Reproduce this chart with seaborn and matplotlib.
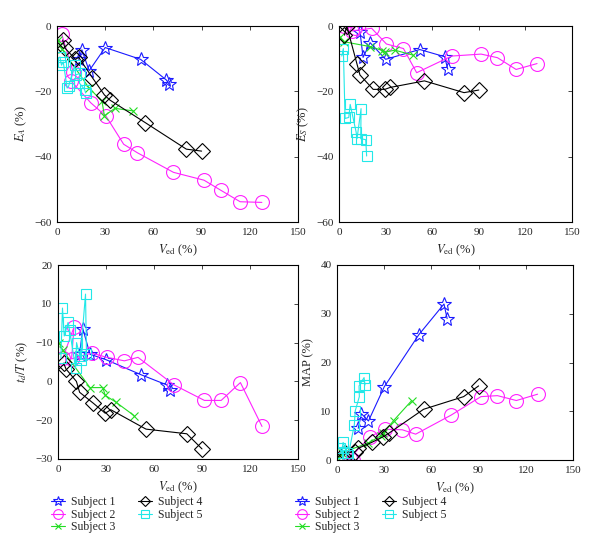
import numpy as np
import pandas as pd
import matplotlib
matplotlib.use("Agg")
import matplotlib.pyplot as plt
import seaborn as sns

# ---------------- data ----------------
subjects = ["Subject 1", "Subject 2", "Subject 3", "Subject 4", "Subject 5"]

s1_ved = [13.5, 15.5, 20, 30, 52, 68, 70]
s1_ea = [-10.2, -7.3, -13.7, -6.6, -10.2, -16.5, -17.9]
s1_es = [-1.7, -9.6, -5.1, -10.2, -7.2, -9.4, -13.2]
s1_td = [-2.9, 3.6, -3.0, -4.4, -8.3, -10.9, -12.2]
s1_map = [6.5, 9.5, 8.0, 15.0, 25.7, 32.0, 29.0]

s2_ved = [3, 10, 8.5, 21, 30.5, 41.5, 50, 72.5, 91.5, 102, 114, 127.5]
s2_ea = [-2.6, -14, -16.7, -23.5, -27.6, -36.2, -38.8, -44.8, -47.2, -50.3, -53.8, -54]
s2_es = [0.0, -0.7, -1.5, -0.7, -5.5, -6.9, -14.3, -9.2, -8.6, -9.7, -13.3, -11.5]
s2_td = [-4.0, 4.0, -4.2, -2.7, -3.8, -4.7, -3.8, -10.9, -14.9, -14.9, -10.3, -21.6]
s2_map = [0.3, 0.1, 0.5, 4.8, 6.3, 6.2, 5.3, 9.2, 13.0, 13.2, 12.2, 13.5]

s3_ved = [0.5, 3, 20, 28, 29.5, 36, 47.5]
s3_ea = [-4.2, -7.0, -19.0, -23.0, -27.5, -25.2, -26.0]
s3_es = [-3.3, -4.8, -6.3, -7.5, -8.0, -7.4, -8.9]
s3_td = [0.0, -2.0, -11.6, -11.6, -13.6, -15.3, -18.8]
s3_map = [0.5, 1.5, 3.5, 5.0, 5.5, 8.1, 12.2]

s4_ved = [3.5, 5, 11.5, 13.5, 22, 29.5, 33, 55, 80.5, 90]
s4_ea = [-4.3, -6.8, -10.2, -9.6, -15.8, -21.1, -22.7, -29.6, -37.7, -38.3]
s4_es = [-2.8, 0.0, -11.5, -15.0, -19.4, -19.4, -18.8, -16.8, -20.4, -19.6]
s4_td = [-5.3, -6.8, -10.0, -12.8, -15.6, -18.2, -17.3, -22.3, -23.5, -27.4]
s4_map = [0.3, 1.4, 1.7, 2.4, 3.6, 4.8, 5.5, 10.4, 13.0, 15.2]

s5_ved = [1.8, 2.8, 3.9, 6.3, 7.2, 11.0, 11.6, 14.2, 14.0, 17.2, 17.8]
s5_ea = [-9.5, -12.0, -11.0, -19.0, -18.5, -12.0, -15.0, -14.5, -17.5, -19.5, -20.5]
s5_es = [-9.2, -6.9, -28.3, -28.0, -24.0, -32.4, -34.5, -25.3, -34.5, -34.8, -39.8]
s5_td = [-4.0, 8.9, 1.7, 5.2, 3.3, -6.6, 0.0, -4.4, -3.5, 12.5, -3.0]
s5_map = [2.4, 1.4, 3.6, 1.4, 1.0, 7.2, 10.1, 13.0, 15.2, 16.9, 15.4]

x_ticks = [0, 30, 60, 90, 120, 150]
e_ticks = [0, -20, -40, -60]
map_ticks = [0, 10, 20, 30, 40]
td_ticks = [20, 10, 0, -10, -20, -30]
td_ticklabels = ["20", "10", "\u221210", "0", "\u221220", "\u221230"]

# ---------------- build table ----------------
rows = []
all_data = [
    (subjects[0], s1_ved, s1_ea, s1_es, s1_td, s1_map),
    (subjects[1], s2_ved, s2_ea, s2_es, s2_td, s2_map),
    (subjects[2], s3_ved, s3_ea, s3_es, s3_td, s3_map),
    (subjects[3], s4_ved, s4_ea, s4_es, s4_td, s4_map),
    (subjects[4], s5_ved, s5_ea, s5_es, s5_td, s5_map),
]
for name, v, ea, es, td, mp in all_data:
    for i in range(len(v)):
        rows.append(dict(subject=name, order=i, ved=v[i], EA=ea[i], ES=es[i], TD=td[i], MAP=mp[i]))
df = pd.DataFrame(rows)

# ---------------- style ----------------
sns.set_style("white")
plt.rcParams["font.family"] = ["Liberation Serif", "DejaVu Serif"]
plt.rcParams["mathtext.fontset"] = "stix"
plt.rcParams["axes.unicode_minus"] = True

colors = {"Subject 1": "#1a1aff", "Subject 2": "#ff22ff", "Subject 3": "#22dd22",
          "Subject 4": "#000000", "Subject 5": "#22e8e8"}
markers = {"Subject 1": "*", "Subject 2": "o", "Subject 3": "x",
           "Subject 4": "D", "Subject 5": "s"}
msizes = {"Subject 1": 10, "Subject 2": 10, "Subject 3": 6,
          "Subject 4": 8, "Subject 5": 7.5}

fig = plt.figure(figsize=(6.0, 5.53), dpi=100)
ax_ea = fig.add_axes([57/600, 1-222/553, 241/600, 196/553])
ax_es = fig.add_axes([339/600, 1-222/553, 233/600, 196/553])
ax_td = fig.add_axes([58/600, 1-459/553, 240/600, 194/553])
ax_mp = fig.add_axes([337/600, 1-460/553, 236/600, 195/553])

panels = [
    (ax_ea, "EA", r"$E_A$ (%)", (-60, 0), e_ticks, None),
    (ax_es, "ES", r"$E_S$ (%)", (-60, 0), e_ticks, None),
    (ax_td, "TD", r"$t_d/T$ (%)", (-30, 20), td_ticks, td_ticklabels),
    (ax_mp, "MAP", "MAP (%)", (0, 40), map_ticks, None),
]

fs = 8
for ax, col, ylab, ylim, yt, ytl in panels:
    for name in subjects:
        sub = df[df.subject == name].sort_values("order")
        c = colors[name]
        sns.lineplot(data=sub, x="ved", y=col, ax=ax, sort=False, estimator=None,
                     color=c, lw=0.8, marker=markers[name], ms=msizes[name],
                     mfc="none", mec=c, mew=0.8, label=name, legend=False)
    ax.set_xlim(0, 150)
    ax.set_ylim(*ylim)
    ax.set_xticks(x_ticks)
    ax.set_yticks(yt)
    if ytl is not None:
        ax.set_yticklabels(ytl)
    ax.tick_params(direction="in", top=True, right=True, length=3, width=0.6,
                   labelsize=fs, pad=4)
    for sp in ax.spines.values():
        sp.set_visible(True)
        sp.set_color("black")
        sp.set_linewidth(0.8)
    ax.set_xlabel(r"$V_{\mathrm{ed}}$ (%)", fontsize=fs + 1, labelpad=4)
    ax.set_ylabel(ylab, fontsize=fs + 1, labelpad=4)

for ax, x0 in [(ax_td, 0.067), (ax_mp, 0.474)]:
    handles, labels = ax.get_legend_handles_labels()
    fig.legend(handles[:5], labels[:5], loc="upper left", bbox_to_anchor=(x0, 0.122),
               ncol=2, frameon=False, fontsize=fs + 0.5, handlelength=1.2,
               handletextpad=0.5, columnspacing=1.9, labelspacing=0.05,
               markerscale=0.7)

fig.savefig("out.png", dpi=100)
